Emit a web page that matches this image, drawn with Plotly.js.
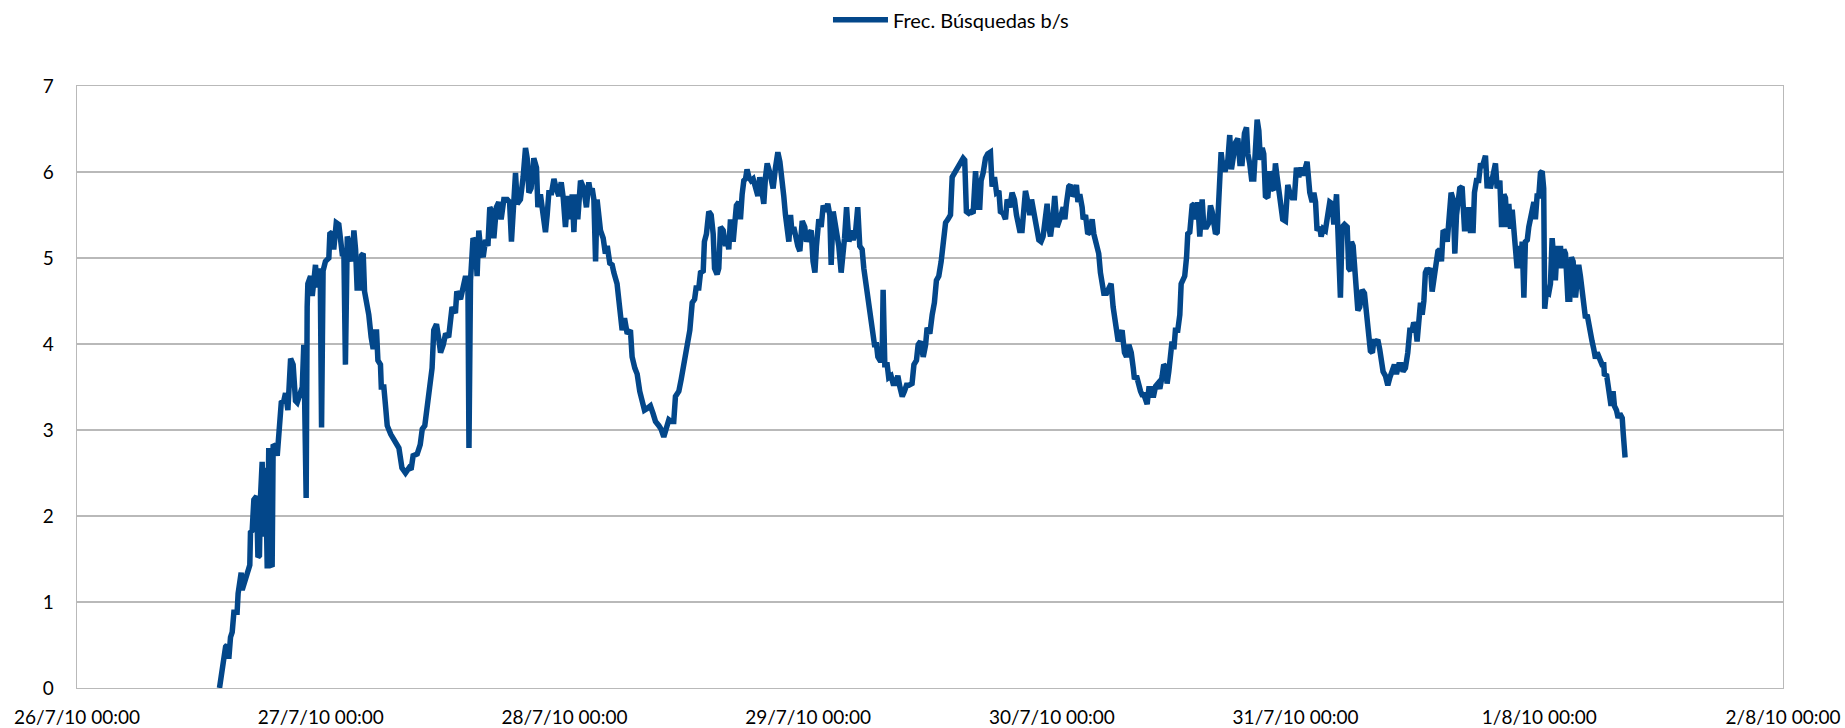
<!DOCTYPE html>
<html>
<head>
<meta charset="utf-8">
<script src="https://cdn.plot.ly/plotly-3.0.1.min.js"></script>
<style>html,body{margin:0;padding:0;background:#fff}#chart{width:1845px;height:728px}</style>
</head>
<body>
<div id="chart"></div>
<script>
const seriesName = 'Frec. Búsquedas b/s';
const tickDates = ['2010-07-26','2010-07-27','2010-07-28','2010-07-29','2010-07-30','2010-07-31','2010-08-01','2010-08-02'];
const tickLabels = ['26/7/10 00:00','27/7/10 00:00','28/7/10 00:00','29/7/10 00:00','30/7/10 00:00','31/7/10 00:00','1/8/10 00:00','2/8/10 00:00'];

// 26/7/2010
const time_0726 = [
'14:02','14:12','14:24','14:38','14:47','14:57','15:07','15:17','15:27','15:46',
'15:52','16:10','16:16','16:32','16:46','17:01','17:05','17:15','17:25','17:41',
'17:49','17:58','18:04','18:14','18:24','18:34','18:44','18:53','19:04','19:13',
'19:19','19:33','19:43','19:53','20:02','20:07','20:22','20:32','20:46','20:52',
'21:02','21:17','21:31','21:41','21:57','22:11','22:20','22:34','22:40','22:44',
'23:00','23:10','23:20','23:29','23:39','23:49','23:57'];
const freq_0726 = [
0,0.14,0.32,0.48,0.50,0.34,0.59,0.65,0.88,0.88,
1.10,1.34,1.14,1.25,1.36,1.43,1.81,1.83,2.19,2.23,
1.52,1.54,2.21,2.63,1.76,2.56,1.39,2.79,1.43,1.41,
2.83,2.81,2.70,3.01,3.05,3.32,3.34,3.43,3.23,3.41,
3.83,3.76,3.34,3.32,3.41,3.50,3.99,2.21,4.43,4.70,
4.79,4.56,4.74,4.92,4.66,4.79,4.88];

// 27/7/2010
const time_0727 = [
'00:05','00:14','00:28','00:48','00:54','01:08','01:17','01:32','01:47','01:57',
'02:07','02:17','02:26','02:37','02:46','02:56','03:06','03:16','03:26','03:35',
'03:49','04:01','04:11','04:19','04:35','04:44','04:58','05:10','05:18','05:30',
'05:38','05:53','05:58','06:13','06:23','06:33','06:54','07:12','07:30','07:42',
'08:00','08:21','08:42','08:54','09:06','09:30','09:48','10:00','10:15','10:30',
'10:44','10:58','11:08','11:24','11:36','11:48','12:04','12:18','12:36','12:56',
'13:16','13:24','13:46','14:00','14:16','14:30','14:36','14:45','15:00','15:14',
'15:24','15:34','15:44','16:00','16:14','16:28','16:39','16:53','17:03','17:18',
'17:32','17:46','18:02','18:22','18:36','18:47','19:11','19:21','19:40','19:56',
'20:10','20:20','20:30','20:43','20:59','21:15','21:23','21:38','21:54','22:08',
'22:18','22:28','22:44','22:58','23:11','23:27','23:41','23:53'];
const freq_0727 = [
3.03,4.85,4.96,5.00,5.28,5.30,5.10,5.41,5.39,5.23,
5.05,5.05,3.76,5.25,5.19,5.05,4.96,5.32,5.10,4.65,
4.65,5.03,5.05,4.61,4.48,4.34,4.08,3.94,4.14,4.14,
3.81,3.76,3.50,3.50,3.28,3.05,2.95,2.88,2.83,2.79,
2.56,2.50,2.56,2.54,2.70,2.72,2.83,3.01,3.05,3.32,
3.45,3.72,4.16,4.23,4.08,3.90,3.99,4.12,4.08,4.43,
4.36,4.61,4.52,4.65,4.79,4.65,2.79,4.74,5.23,5.19,
4.79,5.32,5.12,5.01,5.21,5.14,5.59,5.54,5.23,5.59,
5.65,5.45,5.68,5.68,5.65,5.19,5.99,5.63,5.68,5.94,
6.28,6.16,5.76,5.81,6.16,6.05,5.59,5.74,5.50,5.30,
5.50,5.76,5.76,5.92,5.81,5.72,5.88,5.70];

// 28/7/2010
const time_0728 = [
'00:06','00:20','00:36','00:46','00:56','01:05','01:19','01:35','01:54','02:10',
'02:24','02:34','02:44','02:54','03:04','03:13','03:33','03:49','04:02','04:13',
'04:28','04:42','04:52','05:11','05:31','05:41','05:55','06:11','06:30','06:40',
'06:56','07:10','07:25','07:39','07:53','08:09','08:28','08:44','08:58','09:18',
'09:31','09:47','10:03','10:17','10:31','10:46','10:56','11:16','11:30','11:42',
'11:55','12:09','12:21','12:35','12:49','12:58','13:14','13:24','13:40','13:47',
'13:59','14:13','14:27','14:39','14:47','15:02','15:12','15:22','15:38','15:52',
'16:01','16:11','16:21','16:37','16:45','16:56','17:10','17:20','17:30','17:40',
'17:50','17:59','18:10','18:23','18:35','18:49','19:03','19:14','19:28','19:38',
'19:48','19:58','20:14','20:33','20:47','21:01','21:13','21:26','21:36','21:46',
'21:56','22:06','22:16','22:25','22:35','22:45','22:59','23:11','23:25','23:40',
'23:50'];
const freq_0728 = [
5.36,5.72,5.45,5.74,5.30,5.74,5.45,5.90,5.81,5.59,
5.88,5.76,5.81,5.68,4.96,5.68,5.32,5.23,5.05,5.14,
4.94,4.92,4.83,4.70,4.34,4.16,4.30,4.12,4.16,3.85,
3.72,3.65,3.45,3.32,3.23,3.25,3.28,3.19,3.10,3.05,
3.01,2.92,3.01,3.12,3.10,3.10,3.39,3.45,3.59,3.72,
3.90,3.99,4.16,4.48,4.52,4.65,4.65,4.83,4.85,5.19,
5.28,5.54,5.50,5.28,4.88,4.81,4.88,5.36,5.32,5.14,
5.23,5.10,5.45,5.19,5.36,5.61,5.65,5.45,5.74,5.90,
5.92,6.03,5.94,5.90,5.92,5.81,5.72,5.94,5.76,5.63,
5.94,6.10,5.99,5.81,6.05,6.23,6.12,5.94,5.72,5.50,
5.28,5.19,5.50,5.28,5.36,5.23,5.14,5.08,5.43,5.36,
5.19];

// 29/7/2010
const time_0729 = [
'00:04','00:18','00:29','00:40','00:49','01:03','01:17','01:29','01:43','01:56',
'02:08','02:16','02:28','02:41','02:52','03:01','03:15','03:27','03:35','03:47',
'04:01','04:14','04:26','04:40','04:53','05:05','05:19','05:29','05:39','05:49',
'06:04','06:18','06:32','06:44','06:52','07:04','07:17','07:23','07:33','07:47',
'07:56','08:10','08:22','08:36','08:50','09:02','09:16','09:29','09:41','09:55',
'10:14','10:25','10:40','10:50','11:04','11:20','11:34','11:43','11:59','12:13',
'12:26','12:38','12:52','13:06','13:18','13:32','13:46','14:01','14:11','14:25',
'14:37','14:50','15:04','15:16','15:25','15:35','15:49','16:03','16:15','16:29',
'16:43','16:54','17:02','17:14','17:28','17:41','17:57','18:07','18:21','18:33',
'18:47','18:56','19:12','19:26','19:36','19:52','20:05','20:19','20:31','20:39',
'20:50','21:04','21:14','21:24','21:38','21:50','22:00','22:10','22:23','22:33',
'22:43','22:56','23:08','23:22','23:32','23:42','23:52'];
const freq_0729 = [
5.28,5.32,4.96,4.83,5.14,5.45,5.36,5.61,5.54,5.63,
5.50,4.92,5.54,5.36,5.28,5.14,4.83,5.05,5.23,5.59,
5.19,5.32,5.21,5.30,5.59,5.14,5.10,4.88,4.74,4.56,
4.43,4.21,3.99,3.99,3.85,3.81,3.81,4.63,3.76,3.76,
3.61,3.63,3.54,3.54,3.63,3.50,3.39,3.45,3.52,3.52,
3.54,3.76,3.81,3.99,4.03,3.85,3.99,4.19,4.12,4.34,
4.48,4.74,4.79,4.96,5.23,5.41,5.45,5.50,5.94,5.99,
6.03,6.08,6.14,6.16,6.14,5.54,5.52,5.54,5.52,6.01,
5.59,5.59,5.90,5.99,6.16,6.21,6.23,5.83,5.94,5.76,
5.78,5.54,5.52,5.45,5.68,5.59,5.76,5.68,5.50,5.41,
5.32,5.32,5.54,5.78,5.65,5.50,5.68,5.54,5.45,5.32,
5.21,5.19,5.25,5.45,5.63,5.36,5.25];

// 30/7/2010
const time_0730 = [
'00:08','00:17','00:31','00:41','00:55','01:07','01:17','01:26','01:40','01:50',
'02:00','02:14','02:25','02:34','02:45','02:59','03:05','03:19','03:32','03:44',
'03:58','04:08','04:18','04:28','04:37','04:47','04:57','05:07','05:23','05:37',
'05:50','06:02','06:10','06:22','06:32','06:46','06:55','07:09','07:21','07:35',
'07:49','08:01','08:08','08:20','08:34','08:44','08:53','09:04','09:13','09:23',
'09:33','09:47','09:59','10:13','10:26','10:38','10:52','11:01','11:11','11:21',
'11:31','11:41','11:50','12:01','12:10','12:24','12:36','12:44','12:56','13:05',
'13:16','13:23','13:35','13:49','14:02','14:14','14:22','14:34','14:48','14:58',
'15:14','15:28','15:37','15:47','15:57','16:07','16:17','16:26','16:40','16:52',
'17:06','17:20','17:31','17:41','17:55','18:05','18:19','18:31','18:44','18:58',
'19:10','19:18','19:29','19:40','19:53','20:03','20:13','20:23','20:32','20:43',
'20:52','21:02','21:16','21:28','21:41','21:52','22:01','22:11','22:21','22:31',
'22:44','23:00','23:14','23:26','23:40','23:53'];
const freq_0730 = [
5.50,5.72,5.36,5.41,5.50,5.59,5.45,5.63,5.83,5.85,
5.72,5.76,5.85,5.65,5.74,5.59,5.45,5.50,5.28,5.30,
5.45,5.28,5.21,5.14,5.05,4.83,4.70,4.59,4.59,4.65,
4.70,4.43,4.30,4.08,4.03,4.12,4.16,3.90,3.85,3.99,
3.90,3.72,3.59,3.63,3.50,3.45,3.41,3.41,3.36,3.30,
3.48,3.48,3.38,3.51,3.54,3.48,3.63,3.76,3.74,3.54,
3.68,3.99,4.03,3.94,4.16,4.16,4.34,4.70,4.74,4.79,
5.01,5.28,5.30,5.61,5.63,5.45,5.65,5.25,5.68,5.36,
5.36,5.41,5.61,5.54,5.41,5.28,5.30,5.65,6.23,6.03,
6.03,6.14,6.43,6.03,6.21,6.34,6.39,6.10,6.10,6.45,
6.52,6.21,6.10,5.92,5.92,6.34,6.61,6.48,6.14,6.28,
6.21,5.72,5.70,6.01,5.81,5.79,6.10,5.94,5.76,5.56,
5.45,5.43,5.85,5.76,5.70,5.70];

// 31/7/2010
const time_0731 = [
'00:05','00:19','00:33','00:45','00:59','01:08','01:24','01:38','01:48','01:58',
'02:07','02:23','02:31','02:43','02:56','03:11','03:22','03:36','03:46','04:02',
'04:16','04:25','04:35','04:49','05:05','05:14','05:25','05:30','05:40','05:48',
'06:00','06:08','06:19','06:33','06:47','06:59','07:13','07:22','07:34','07:42',
'07:58','08:06','08:17','08:26','08:37','08:51','09:05','09:17','09:31','09:44',
'09:56','10:10','10:24','10:35','10:49','11:03','11:15','11:29','11:38','11:49',
'11:58','12:08','12:18','12:28','12:38','12:47','12:58','13:07','13:17','13:27',
'13:41','13:52','14:01','14:12','14:22','14:32','14:46','14:56','15:05','15:19',
'15:31','15:41','15:51','15:59','16:10','16:24','16:38','16:50','17:04','17:13',
'17:29','17:37','17:49','18:02','18:13','18:22','18:32','18:42','18:52','19:02',
'19:11','19:22','19:31','19:41','19:51','20:07','20:17','20:31','20:40','20:50',
'21:00','21:10','21:20','21:29','21:40','21:49','21:59','22:09','22:19','22:29',
'22:38','22:49','22:58','23:08','23:17','23:28','23:37','23:47','23:57'];
const freq_0731 = [
6.05,5.94,6.05,5.96,6.10,6.12,5.76,5.65,5.76,5.65,
5.32,5.36,5.25,5.34,5.32,5.56,5.65,5.63,5.39,5.74,
5.14,4.54,5.36,5.39,5.36,4.88,4.85,5.19,5.14,4.88,
4.74,4.39,4.43,4.63,4.59,4.34,4.16,3.92,3.90,4.03,
4.03,4.05,3.94,3.81,3.68,3.63,3.52,3.61,3.68,3.76,
3.65,3.76,3.76,3.68,3.72,3.90,4.16,4.16,4.25,4.21,
4.03,4.34,4.48,4.34,4.50,4.83,4.88,4.85,4.88,4.61,
4.85,4.96,5.08,5.10,4.96,5.32,5.30,5.19,5.50,5.76,
5.68,5.05,5.50,5.72,5.81,5.83,5.34,5.34,5.59,5.32,
5.32,5.76,5.90,5.90,6.10,6.05,6.16,6.19,5.81,5.94,
5.81,5.90,6.03,6.10,5.81,5.90,5.36,5.74,5.70,5.36,
5.63,5.34,5.56,5.30,4.96,4.88,5.14,4.88,5.19,4.54,
5.19,5.21,5.36,5.45,5.54,5.65,5.45,5.72,5.72];

// 1/8/2010
const time_0801 = [
'00:07','00:17','00:26','00:32','00:42','00:56','01:06','01:16','01:26','01:35',
'01:46','01:55','02:05','02:15','02:25','02:35','02:49','03:00','03:10','03:20',
'03:34','03:44','03:53','04:03','04:13','04:23','04:33','04:43','04:53','05:02',
'05:12','05:22','05:32','05:42','05:58','06:11','06:21','06:25','06:37','06:47',
'06:56','07:04','07:16','07:24','07:36','07:46','07:56','08:10','08:16','08:23',
'08:27'];
const freq_0801 = [
5.99,6.01,5.81,4.41,4.61,4.59,4.70,5.23,4.92,4.74,
5.14,4.88,5.14,4.88,5.10,5.05,4.52,4.52,5.01,4.96,
4.54,4.79,4.92,4.79,4.65,4.48,4.30,4.34,4.21,4.12,
4.03,3.94,3.83,3.90,3.81,3.76,3.76,3.63,3.65,3.54,
3.41,3.28,3.45,3.28,3.23,3.14,3.19,3.14,2.96,2.83,
2.68];

const dayParts = [
  ['2010-07-26', time_0726, freq_0726],
  ['2010-07-27', time_0727, freq_0727],
  ['2010-07-28', time_0728, freq_0728],
  ['2010-07-29', time_0729, freq_0729],
  ['2010-07-30', time_0730, freq_0730],
  ['2010-07-31', time_0731, freq_0731],
  ['2010-08-01', time_0801, freq_0801]
];
const xs = [], ys = [];
dayParts.forEach(([d, t, v]) => {
  if (t.length !== v.length) console.error('length mismatch', d, t.length, v.length);
  const n = Math.min(t.length, v.length);
  for (let i = 0; i < n; i++) { xs.push(d + ' ' + t[i]); ys.push(v[i]); }
});

const gridCol = '#b9b9b9';
const trace = {
  type: 'scatter', mode: 'lines', name: seriesName,
  x: xs, y: ys,
  line: {color: '#03478a', width: 5.5},
  hoverinfo: 'skip'
};
const layout = {
  width: 1845, height: 728,
  margin: {l: 77, r: 62, t: 86, b: 40, pad: 0, autoexpand: false},
  paper_bgcolor: '#ffffff', plot_bgcolor: '#ffffff',
  font: {family: 'Lato, Carlito, Calibri, sans-serif', size: 19, color: '#000000'},
  showlegend: true,
  legend: {orientation: 'h', x: 0.4402, xanchor: 'left', y: 1.11, yanchor: 'middle',
           itemwidth: 55, font: {size: 20, color: '#000000'}, bgcolor: 'rgba(0,0,0,0)'},
  xaxis: {type: 'date', range: ['2010-07-26 00:00', '2010-08-02 00:00'],
          tickmode: 'array', tickvals: tickDates, ticktext: tickLabels,
          showgrid: false, zeroline: false, showline: true, mirror: true,
          linecolor: gridCol, linewidth: 1.3,
          ticks: 'outside', ticklen: 12, tickcolor: 'rgba(0,0,0,0)'},
  yaxis: {range: [0, 7], tick0: 0, dtick: 1, showgrid: true, gridcolor: gridCol, gridwidth: 1.3,
          zeroline: false, showline: true, mirror: true, linecolor: gridCol, linewidth: 1.3,
          ticks: 'outside', ticklen: 18, tickcolor: 'rgba(0,0,0,0)'}
};
Plotly.newPlot('chart', [trace], layout, {staticPlot: true, displayModeBar: false});
</script>
</body>
</html>
